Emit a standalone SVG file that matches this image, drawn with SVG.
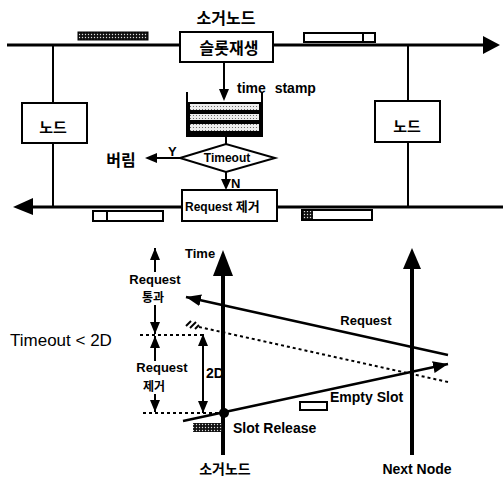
<svg xmlns="http://www.w3.org/2000/svg" width="503" height="480" viewBox="0 0 503 480">
<style>
.t{font-family:"Liberation Sans",Arial,sans-serif;font-weight:bold;fill:#000}
.k{font-family:"Noto Sans CJK KR","Liberation Sans",sans-serif;font-weight:bold;fill:#000}
.box{fill:#fff;stroke:#000;stroke-width:2}
.ln{stroke:#000;fill:none}
.dot{stroke:#000;fill:none;stroke-width:2;stroke-dasharray:3 3}
.ah{fill:#000}
</style>
<defs>
<pattern id="dk" width="3" height="3" patternUnits="userSpaceOnUse"><rect width="3" height="3" fill="#111"/><circle cx="1.5" cy="1.5" r="0.7" fill="#ddd"/></pattern>
<pattern id="lt" width="3" height="3" patternUnits="userSpaceOnUse"><rect width="3" height="3" fill="#eee"/><circle cx="1.5" cy="1.5" r="0.6" fill="#555"/></pattern>
<marker id="sm" markerUnits="userSpaceOnUse" markerWidth="12" markerHeight="10" refX="12" refY="5" orient="auto"><path d="M0,0 L12,5 L0,10 Z" fill="#000"/></marker>
<marker id="md" markerUnits="userSpaceOnUse" markerWidth="15" markerHeight="12" refX="15" refY="6" orient="auto"><path d="M0,0 L15,6 L0,12 Z" fill="#000"/></marker>
</defs>

<g id="connectors">
<line class="ln" x1="7" y1="45" x2="486" y2="45" stroke-width="3"/>
<polygon class="ah" points="483,36 500,45 483,54"/>
<line class="ln" x1="30" y1="207" x2="503" y2="207" stroke-width="3"/>
<polygon class="ah" points="33,198 13,207 33,215"/>
<line class="ln" x1="53" y1="45" x2="53" y2="207" stroke-width="2"/>
<line class="ln" x1="408" y1="45" x2="408" y2="207" stroke-width="2"/>
<line class="ln" x1="224" y1="62" x2="224" y2="92" stroke-width="2"/>
<polygon class="ah" points="219,89 224,101 229,89"/>
<line class="ln" x1="226" y1="136" x2="226" y2="144" stroke-width="2"/>
<line class="ln" x1="180" y1="158" x2="150" y2="158" stroke-width="2"/>
<polygon class="ah" points="157,153 145,158 157,163"/>
<line class="ln" x1="226" y1="172" x2="226" y2="182" stroke-width="2"/>
<polygon class="ah" points="221,179 226,190 231,179"/>

<line class="ln" x1="223" y1="455" x2="223" y2="272" stroke-width="4"/>
<polygon class="ah" points="213,276 223,250 233,276"/>
<line class="ln" x1="412" y1="455" x2="412" y2="266" stroke-width="4"/>
<polygon class="ah" points="403,269 412,248 421,269"/>
<line class="ln" x1="448" y1="355" x2="186" y2="297" stroke-width="2.5" marker-end="url(#md)"/>
<line class="dot" x1="140" y1="335" x2="205" y2="335"/>
<line class="dot" x1="199" y1="327" x2="448" y2="382"/>
<line class="ln" x1="186" y1="326" x2="191" y2="321" stroke-width="2"/>
<line class="ln" x1="190" y1="328" x2="196" y2="322" stroke-width="2"/>
<line class="ln" x1="195" y1="329" x2="199" y2="325" stroke-width="2"/>
<line class="dot" x1="143" y1="413" x2="218" y2="413"/>
<line class="ln" x1="183" y1="421" x2="448" y2="364" stroke-width="2.5" marker-end="url(#md)"/>
<circle cx="224" cy="413" r="5" fill="#000"/>
<line class="ln" x1="155" y1="272" x2="155" y2="248" stroke-width="2" marker-end="url(#sm)"/>
<line class="ln" x1="155" y1="305" x2="155" y2="334" stroke-width="2" marker-end="url(#sm)"/>
<line class="ln" x1="155" y1="361" x2="155" y2="336" stroke-width="2" marker-end="url(#sm)"/>
<line class="ln" x1="155" y1="394" x2="155" y2="412" stroke-width="2" marker-end="url(#sm)"/>
<line class="ln" x1="203" y1="372" x2="203" y2="334" stroke-width="2" marker-end="url(#sm)"/>
<line class="ln" x1="203" y1="372" x2="203" y2="413" stroke-width="2" marker-end="url(#sm)"/>
</g>

<g id="title"><text class="k" x="226" y="24" font-size="16" text-anchor="middle">소거노드</text></g>

<g id="slot-regen">
<rect class="box" x="180" y="32" width="93" height="30"/>
<text class="k" x="229" y="54" font-size="16" text-anchor="middle">슬롯재생</text>
</g>

<g id="slot-top-left"><rect x="78" y="32" width="70" height="8" fill="url(#dk)" stroke="#000" stroke-width="1"/></g>
<g id="slot-top-right">
<rect class="box" x="304" y="33" width="71" height="9"/>
<line class="ln" x1="363" y1="33" x2="363" y2="42" stroke-width="2"/>
</g>
<g id="slot-bottom-left">
<rect class="box" x="93" y="211" width="70" height="10"/>
<line class="ln" x1="107" y1="211" x2="107" y2="221" stroke-width="2"/>
</g>
<g id="slot-bottom-right">
<rect class="box" x="302" y="210" width="70" height="10"/>
<rect x="303" y="211" width="10" height="8" fill="url(#dk)"/>
</g>

<g id="time-stamp-label"><text class="t" x="237" y="93" font-size="14" word-spacing="5">time stamp</text></g>

<g id="queue">
<rect x="187" y="102" width="75" height="34" fill="#000"/>
<rect x="190" y="104" width="69" height="6" fill="url(#lt)"/>
<rect x="190" y="114" width="69" height="6" fill="url(#lt)"/>
<rect x="190" y="124" width="69" height="7" fill="url(#lt)"/>
<path class="ln" d="M187,92 V136 H262 V92" stroke-width="2"/>
</g>

<g id="timeout">
<polygon points="180,158 226,144 275,158 226,172" fill="#fff" stroke="#000" stroke-width="2"/>
<text class="t" x="227" y="162" font-size="12" text-anchor="middle">Timeout</text>
<text class="t" x="168" y="156" font-size="13">Y</text>
<text class="t" x="231" y="188" font-size="13">N</text>
</g>

<g id="discard"><text class="k" x="121" y="166" font-size="16" text-anchor="middle">버림</text></g>

<g id="request-remove">
<rect class="box" x="182" y="190" width="95" height="31"/>
<text class="t" x="185" y="211" font-size="12">Request <tspan class="k" font-size="13">제거</tspan></text>
</g>

<g id="node-left">
<rect class="box" x="22" y="103" width="65" height="40"/>
<text class="k" x="53" y="133" font-size="15" text-anchor="middle">노드</text>
</g>
<g id="node-right">
<rect class="box" x="375" y="101" width="65" height="41"/>
<text class="k" x="407" y="132" font-size="15" text-anchor="middle">노드</text>
</g>

<g id="timing-labels">
<text class="t" x="185" y="258" font-size="13">Time</text>
<text class="t" x="366" y="325" font-size="13" text-anchor="middle">Request</text>
<text class="t" x="155" y="284" font-size="13" text-anchor="middle">Request</text>
<text class="k" x="153" y="302" font-size="12" text-anchor="middle">통과</text>
<text x="10" y="346" font-family="Liberation Sans,Arial,sans-serif" font-size="17">Timeout &lt; 2D</text>
<text class="t" x="162" y="372" font-size="13" text-anchor="middle">Request</text>
<text class="k" x="154" y="391" font-size="12" text-anchor="middle">제거</text>
<text class="t" x="206" y="378" font-size="14">2D</text>
<text class="t" x="330" y="402" font-size="14">Empty Slot</text>
<rect class="box" x="300" y="402" width="27" height="8"/>
<rect x="193" y="423" width="29" height="9" fill="url(#dk)"/>
<text class="t" x="233" y="433" font-size="14">Slot Release</text>
<text class="k" x="225" y="474" font-size="14" text-anchor="middle">소거노드</text>
<text class="t" x="417" y="474" font-size="14" text-anchor="middle">Next Node</text>
</g>
</svg>
